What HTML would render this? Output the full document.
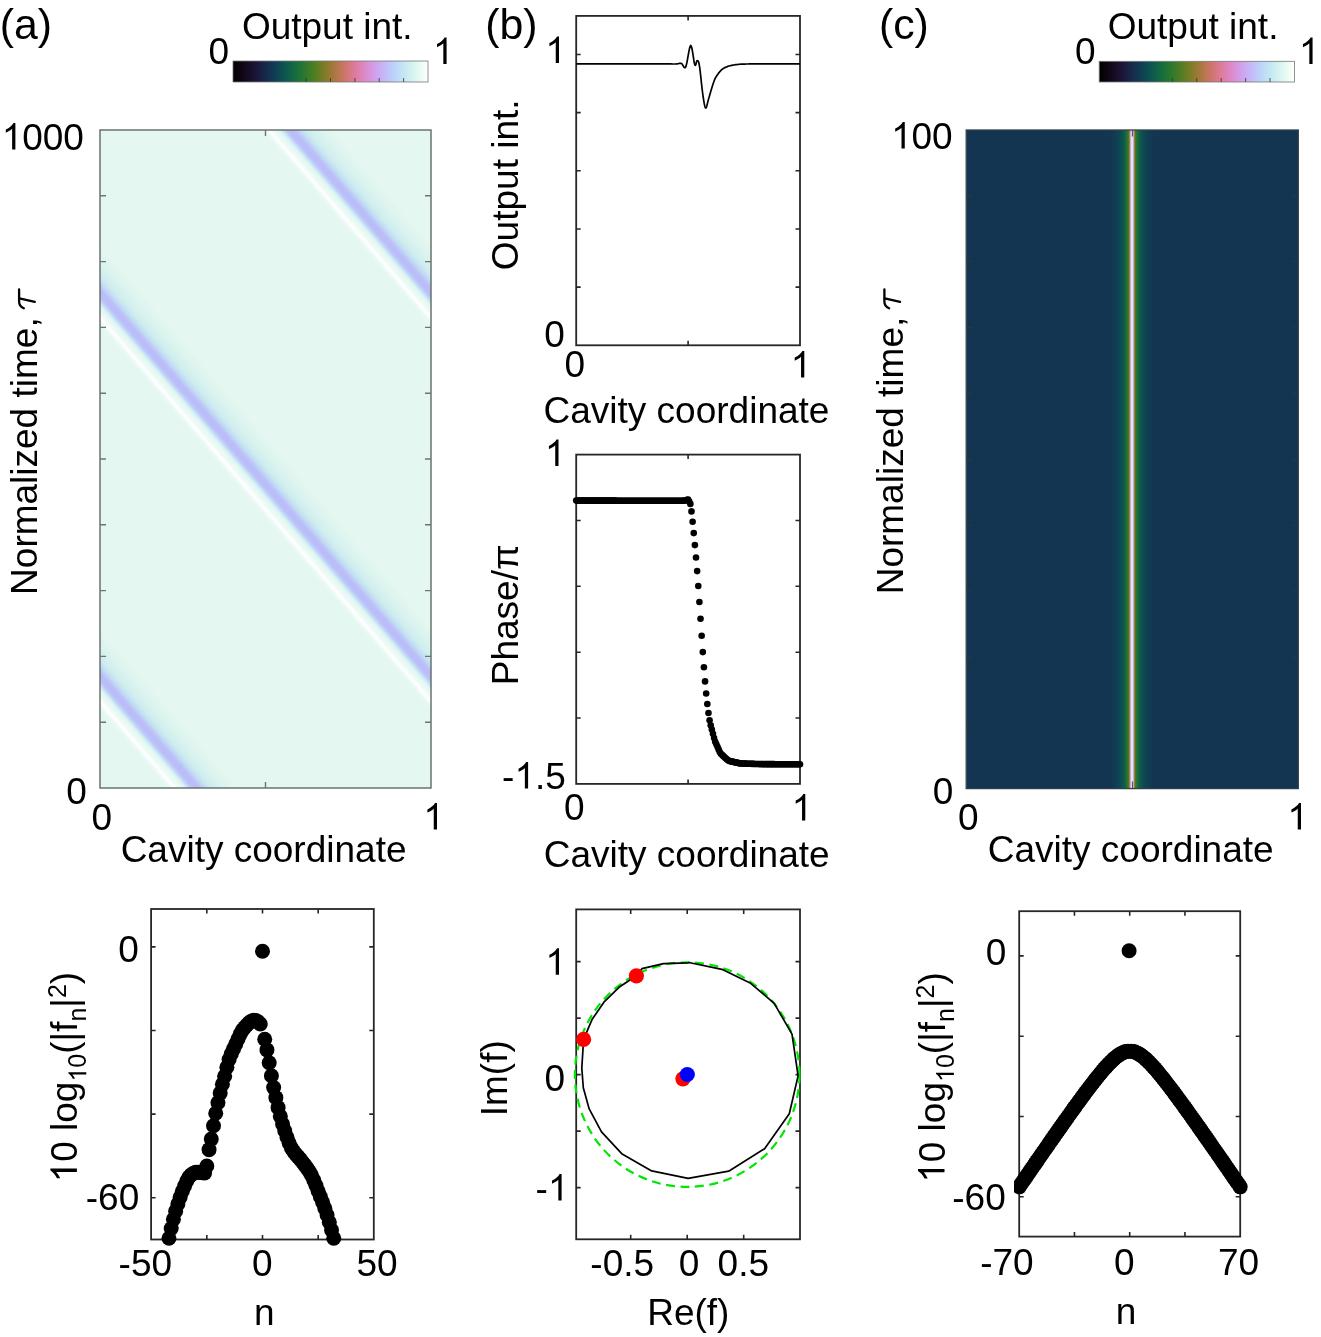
<!DOCTYPE html><html><head><meta charset="utf-8"><style>html,body{margin:0;padding:0;background:#fff;overflow:hidden}svg{display:block;will-change:transform}text{font-family:"Liberation Sans",sans-serif;fill:#000;font-kerning:none;white-space:pre}</style></head><body>
<svg width="1321" height="1337" viewBox="0 0 1321 1337">
<rect width="1321" height="1337" fill="#fff"/>
<defs>
<linearGradient id="cb" x1="0" y1="0" x2="1" y2="0"><stop offset="0.000" stop-color="#000000"/><stop offset="0.025" stop-color="#090309"/><stop offset="0.050" stop-color="#110615"/><stop offset="0.075" stop-color="#160b22"/><stop offset="0.100" stop-color="#19112f"/><stop offset="0.125" stop-color="#1a183b"/><stop offset="0.150" stop-color="#192245"/><stop offset="0.175" stop-color="#162c4d"/><stop offset="0.200" stop-color="#123752"/><stop offset="0.225" stop-color="#0f4353"/><stop offset="0.250" stop-color="#0d4f51"/><stop offset="0.275" stop-color="#0e5a4d"/><stop offset="0.300" stop-color="#116545"/><stop offset="0.325" stop-color="#186d3d"/><stop offset="0.350" stop-color="#227434"/><stop offset="0.375" stop-color="#31792c"/><stop offset="0.400" stop-color="#427c26"/><stop offset="0.425" stop-color="#567d23"/><stop offset="0.450" stop-color="#6c7d25"/><stop offset="0.475" stop-color="#837b2a"/><stop offset="0.500" stop-color="#997935"/><stop offset="0.525" stop-color="#ad7743"/><stop offset="0.550" stop-color="#bf7656"/><stop offset="0.575" stop-color="#cd766c"/><stop offset="0.600" stop-color="#d77783"/><stop offset="0.625" stop-color="#dd7b9b"/><stop offset="0.650" stop-color="#de81b3"/><stop offset="0.675" stop-color="#dd89c8"/><stop offset="0.700" stop-color="#d893da"/><stop offset="0.725" stop-color="#d29ee9"/><stop offset="0.750" stop-color="#cbabf3"/><stop offset="0.775" stop-color="#c5b8f9"/><stop offset="0.800" stop-color="#c0c5fb"/><stop offset="0.825" stop-color="#bed2fa"/><stop offset="0.850" stop-color="#c0ddf8"/><stop offset="0.875" stop-color="#c4e6f4"/><stop offset="0.900" stop-color="#cceef1"/><stop offset="0.925" stop-color="#d7f4f0"/><stop offset="0.950" stop-color="#e4f9f1"/><stop offset="0.975" stop-color="#f2fcf6"/><stop offset="1.000" stop-color="#ffffff"/></linearGradient>
<linearGradient id="stripe" gradientUnits="userSpaceOnUse" x1="-60" y1="0" x2="60" y2="0"><stop offset="0.0000" stop-color="#e4f7f0"/><stop offset="0.2417" stop-color="#e4f7f0"/><stop offset="0.2750" stop-color="#eaf9f4"/><stop offset="0.3125" stop-color="#ffffff"/><stop offset="0.3500" stop-color="#ecfaf5"/><stop offset="0.3792" stop-color="#e6f9f3"/><stop offset="0.4042" stop-color="#dcf3f3"/><stop offset="0.4250" stop-color="#c8e2f6"/><stop offset="0.4500" stop-color="#bccaf8"/><stop offset="0.4750" stop-color="#b9bdf8"/><stop offset="0.5167" stop-color="#bbbdf8"/><stop offset="0.5417" stop-color="#bdcbf7"/><stop offset="0.5750" stop-color="#c3dff3"/><stop offset="0.6250" stop-color="#cfedef"/><stop offset="0.7167" stop-color="#daf3ee"/><stop offset="0.8333" stop-color="#e4f7f0"/><stop offset="1.0000" stop-color="#e4f7f0"/></linearGradient>
<clipPath id="clipA"><rect x="100" y="130" width="331" height="658"/></clipPath>
<clipPath id="clipC"><rect x="966.2" y="130" width="332.1" height="658.6"/></clipPath>
<clipPath id="clipCS"><rect x="1014.1" y="880" width="300" height="400"/></clipPath>
<linearGradient id="cline" gradientUnits="userSpaceOnUse" x1="1092" y1="0" x2="1172" y2="0"><stop offset="0.0000" stop-color="#133551"/><stop offset="0.2250" stop-color="#133551"/><stop offset="0.3125" stop-color="#103f53"/><stop offset="0.3750" stop-color="#0d5051"/><stop offset="0.4125" stop-color="#106248"/><stop offset="0.4375" stop-color="#217435"/><stop offset="0.4562" stop-color="#417c27"/><stop offset="0.4688" stop-color="#a7783e"/><stop offset="0.4775" stop-color="#de85be"/><stop offset="0.4875" stop-color="#c2e3f5"/><stop offset="0.5000" stop-color="#e0f7f0"/><stop offset="0.5125" stop-color="#c2e3f5"/><stop offset="0.5225" stop-color="#de85be"/><stop offset="0.5312" stop-color="#a7783e"/><stop offset="0.5437" stop-color="#417c27"/><stop offset="0.5625" stop-color="#217435"/><stop offset="0.5875" stop-color="#106248"/><stop offset="0.6250" stop-color="#0d5051"/><stop offset="0.6875" stop-color="#103f53"/><stop offset="0.7750" stop-color="#133551"/><stop offset="1.0000" stop-color="#133551"/></linearGradient>
</defs>
<g fill="#000">
<text x="-0.35" y="38.70" font-size="42.8">(a)</text>
<rect x="233" y="61" width="195" height="21" fill="url(#cb)"/><rect x="233" y="61" width="195" height="21" fill="none" stroke="#777" stroke-width="0.8"/><path d="M306.1,82v-4" stroke="#333" stroke-width="0.8"/><path d="M330.5,82v-4" stroke="#333" stroke-width="0.8"/><path d="M354.9,82v-4" stroke="#333" stroke-width="0.8"/><path d="M379.2,82v-4" stroke="#333" stroke-width="0.8"/><path d="M403.6,82v-4" stroke="#333" stroke-width="0.8"/>
<text x="241.92" y="38.90" font-size="37">Output int.</text>
<text x="208.39" y="63.60" font-size="37">0</text>
<path transform="translate(432.79,64.00) scale(37)" d="M0.3726,0L0.2847,0L0.2847,-0.560C0.263,-0.540 0.235,-0.519 0.200,-0.498C0.166,-0.477 0.134,-0.461 0.1138,-0.4546L0.1138,-0.5396C0.1626,-0.5625 0.2051,-0.5903 0.2417,-0.6230C0.2783,-0.6558 0.3042,-0.6875 0.3193,-0.7158L0.3726,-0.7158Z"/>
</g>
<g clip-path="url(#clipA)">
<rect x="100" y="130" width="331" height="658" fill="#e4f7f0"/>
<g transform="matrix(1,0,0.86281,1,-701.50,130)"><rect x="-60" y="-10" width="120" height="680" fill="url(#stripe)"/></g>
<g transform="matrix(1,0,0.86281,1,-370.50,130)"><rect x="-60" y="-10" width="120" height="680" fill="url(#stripe)"/></g>
<g transform="matrix(1,0,0.86281,1,-39.50,130)"><rect x="-60" y="-10" width="120" height="680" fill="url(#stripe)"/></g>
<g transform="matrix(1,0,0.86281,1,291.50,130)"><rect x="-60" y="-10" width="120" height="680" fill="url(#stripe)"/></g>
<g transform="matrix(1,0,0.86281,1,622.50,130)"><rect x="-60" y="-10" width="120" height="680" fill="url(#stripe)"/></g>
</g>
<rect x="100" y="130" width="331" height="658" fill="none" stroke="#5f6a66" stroke-width="1.4"/>
<path d="M100,195.80h6M431,195.80h-6" stroke="#6b7572" stroke-width="1.4"/>
<path d="M100,261.60h6M431,261.60h-6" stroke="#6b7572" stroke-width="1.4"/>
<path d="M100,327.40h6M431,327.40h-6" stroke="#6b7572" stroke-width="1.4"/>
<path d="M100,393.20h6M431,393.20h-6" stroke="#6b7572" stroke-width="1.4"/>
<path d="M100,459.00h6M431,459.00h-6" stroke="#6b7572" stroke-width="1.4"/>
<path d="M100,524.80h6M431,524.80h-6" stroke="#6b7572" stroke-width="1.4"/>
<path d="M100,590.60h6M431,590.60h-6" stroke="#6b7572" stroke-width="1.4"/>
<path d="M100,656.40h6M431,656.40h-6" stroke="#6b7572" stroke-width="1.4"/>
<path d="M100,722.20h6M431,722.20h-6" stroke="#6b7572" stroke-width="1.4"/>
<path d="M265.50,130v6M265.50,788v-6" stroke="#6b7572" stroke-width="1.4"/>
<g fill="#000">
<path transform="translate(1.60,149.50) scale(37)" d="M0.3726,0L0.2847,0L0.2847,-0.560C0.263,-0.540 0.235,-0.519 0.200,-0.498C0.166,-0.477 0.134,-0.461 0.1138,-0.4546L0.1138,-0.5396C0.1626,-0.5625 0.2051,-0.5903 0.2417,-0.6230C0.2783,-0.6558 0.3042,-0.6875 0.3193,-0.7158L0.3726,-0.7158Z"/><text x="22.18" y="149.50" font-size="37">000</text>
<text x="66.13" y="803.80" font-size="37">0</text>
<text x="91.39" y="829.60" font-size="37">0</text>
<path transform="translate(423.21,829.40) scale(37)" d="M0.3726,0L0.2847,0L0.2847,-0.560C0.263,-0.540 0.235,-0.519 0.200,-0.498C0.166,-0.477 0.134,-0.461 0.1138,-0.4546L0.1138,-0.5396C0.1626,-0.5625 0.2051,-0.5903 0.2417,-0.6230C0.2783,-0.6558 0.3042,-0.6875 0.3193,-0.7158L0.3726,-0.7158Z"/>
<text x="120.65" y="862.00" font-size="37">Cavity coordinate</text>
<g transform="translate(37.40,591.90) rotate(-90)"><text x="-3.03" y="0.00" font-size="37">Normalized time,</text></g>
</g>
<g transform="translate(37.40,310) rotate(-90)" fill="none" stroke="#000" stroke-width="2.3" stroke-linecap="round"><path d="M20.6,-18.3L8.6,-18.3C5.2,-18.3 3.0,-16.6 1.8,-13.6"/><path d="M11.6,-18L8.2,-2.6"/></g>
<g fill="#000">
<text x="485.15" y="38.50" font-size="42.8">(b)</text>
</g>
<rect x="576.2" y="15.9" width="223.80" height="329.40" fill="none" stroke="#262626" stroke-width="1.8"/>
<path d="M576.2,287.14h4.5M800,287.14h-4.5" stroke="#262626" stroke-width="1.6"/>
<path d="M576.2,228.98h4.5M800,228.98h-4.5" stroke="#262626" stroke-width="1.6"/>
<path d="M576.2,170.82h4.5M800,170.82h-4.5" stroke="#262626" stroke-width="1.6"/>
<path d="M576.2,112.66h4.5M800,112.66h-4.5" stroke="#262626" stroke-width="1.6"/>
<path d="M576.2,54.50h4.5M800,54.50h-4.5" stroke="#262626" stroke-width="1.6"/>
<path d="M688.10,15.9v4.5M688.10,345.3v-4.5" stroke="#262626" stroke-width="1.6"/>
<path d="M576.20,63.90 L583.13,63.90 L592.87,63.90 L604.51,63.90 L617.16,63.89 L629.92,63.89 L641.92,63.89 L652.24,63.90 L660.00,63.90 L665.24,63.91 L668.82,63.93 L671.09,63.96 L672.41,63.99 L673.12,64.01 L673.57,64.02 L674.11,64.02 L675.10,64.00 L676.30,63.93 L677.30,63.80 L678.12,63.65 L678.81,63.49 L679.43,63.36 L680.00,63.28 L680.58,63.28 L681.20,63.40 L681.84,63.81 L682.43,64.57 L682.98,65.51 L683.52,66.45 L684.05,67.23 L684.58,67.68 L685.12,67.63 L685.70,66.90 L686.31,65.14 L686.94,62.35 L687.58,58.91 L688.23,55.21 L688.87,51.64 L689.50,48.57 L690.11,46.40 L690.70,45.50 L691.27,46.12 L691.83,48.01 L692.38,50.78 L692.92,54.07 L693.43,57.49 L693.92,60.67 L694.38,63.23 L694.80,64.80 L695.17,65.35 L695.50,65.21 L695.79,64.58 L696.06,63.65 L696.32,62.61 L696.57,61.64 L696.82,60.94 L697.10,60.70 L697.38,60.72 L697.65,60.73 L697.91,60.83 L698.18,61.10 L698.46,61.62 L698.75,62.49 L699.06,63.79 L699.40,65.60 L699.78,68.15 L700.19,71.45 L700.62,75.28 L701.07,79.40 L701.52,83.59 L701.97,87.62 L702.40,91.27 L702.80,94.30 L703.18,96.88 L703.54,99.30 L703.89,101.51 L704.24,103.47 L704.58,105.14 L704.91,106.48 L705.25,107.45 L705.60,108.00 L705.95,108.02 L706.29,107.51 L706.64,106.57 L706.98,105.32 L707.33,103.88 L707.68,102.37 L708.04,100.91 L708.40,99.60 L708.77,98.37 L709.16,97.07 L709.54,95.72 L709.94,94.34 L710.33,92.95 L710.72,91.59 L711.12,90.26 L711.50,89.00 L711.88,87.77 L712.26,86.55 L712.63,85.35 L713.01,84.17 L713.38,83.03 L713.75,81.95 L714.13,80.94 L714.50,80.00 L714.86,79.16 L715.21,78.41 L715.55,77.74 L715.90,77.12 L716.26,76.52 L716.64,75.94 L717.05,75.34 L717.50,74.70 L717.99,74.02 L718.50,73.32 L719.05,72.62 L719.61,71.91 L720.20,71.23 L720.81,70.57 L721.45,69.96 L722.10,69.40 L722.77,68.90 L723.46,68.44 L724.18,68.01 L724.91,67.62 L725.67,67.26 L726.45,66.92 L727.26,66.60 L728.10,66.30 L728.97,66.02 L729.89,65.77 L730.83,65.55 L731.80,65.34 L732.78,65.16 L733.76,64.99 L734.74,64.84 L735.70,64.70 L736.59,64.57 L737.39,64.47 L738.15,64.38 L738.93,64.31 L739.78,64.25 L740.76,64.20 L741.91,64.15 L743.30,64.10 L744.79,64.05 L746.29,64.02 L747.87,63.99 L749.62,63.96 L751.63,63.94 L753.97,63.93 L756.74,63.91 L760.00,63.90 L764.16,63.89 L769.30,63.89 L775.05,63.89 L781.04,63.89 L786.91,63.89 L792.27,63.90 L796.75,63.90 L800.00,63.90" fill="none" stroke="#000" stroke-width="1.7" stroke-linejoin="round"/>
<g fill="#000">
<path transform="translate(545.21,63.00) scale(37)" d="M0.3726,0L0.2847,0L0.2847,-0.560C0.263,-0.540 0.235,-0.519 0.200,-0.498C0.166,-0.477 0.134,-0.461 0.1138,-0.4546L0.1138,-0.5396C0.1626,-0.5625 0.2051,-0.5903 0.2417,-0.6230C0.2783,-0.6558 0.3042,-0.6875 0.3193,-0.7158L0.3726,-0.7158Z"/>
<text x="544.23" y="346.90" font-size="37">0</text>
<text x="564.39" y="377.30" font-size="37">0</text>
<path transform="translate(790.51,377.50) scale(37)" d="M0.3726,0L0.2847,0L0.2847,-0.560C0.263,-0.540 0.235,-0.519 0.200,-0.498C0.166,-0.477 0.134,-0.461 0.1138,-0.4546L0.1138,-0.5396C0.1626,-0.5625 0.2051,-0.5903 0.2417,-0.6230C0.2783,-0.6558 0.3042,-0.6875 0.3193,-0.7158L0.3726,-0.7158Z"/>
<text x="543.55" y="422.70" font-size="37">Cavity coordinate</text>
<g transform="translate(518.10,268.40) rotate(-90)"><text x="-1.78" y="0.00" font-size="37">Output int.</text></g>
</g>
<rect x="576.2" y="454.6" width="223.80" height="329.30" fill="none" stroke="#262626" stroke-width="1.8"/>
<path d="M576.2,520.46h4.5M800,520.46h-4.5" stroke="#262626" stroke-width="1.6"/>
<path d="M576.2,586.32h4.5M800,586.32h-4.5" stroke="#262626" stroke-width="1.6"/>
<path d="M576.2,652.18h4.5M800,652.18h-4.5" stroke="#262626" stroke-width="1.6"/>
<path d="M576.2,718.04h4.5M800,718.04h-4.5" stroke="#262626" stroke-width="1.6"/>
<path d="M688.10,454.6v4.5M688.10,783.9v-4.5" stroke="#262626" stroke-width="1.6"/>
<g fill="#000"><circle cx="576.20" cy="500.60" r="3.3"/><circle cx="577.33" cy="500.60" r="3.3"/><circle cx="578.46" cy="500.60" r="3.3"/><circle cx="579.59" cy="500.61" r="3.3"/><circle cx="580.72" cy="500.61" r="3.3"/><circle cx="581.85" cy="500.61" r="3.3"/><circle cx="582.98" cy="500.61" r="3.3"/><circle cx="584.11" cy="500.62" r="3.3"/><circle cx="585.24" cy="500.62" r="3.3"/><circle cx="586.37" cy="500.62" r="3.3"/><circle cx="587.50" cy="500.62" r="3.3"/><circle cx="588.63" cy="500.62" r="3.3"/><circle cx="589.76" cy="500.63" r="3.3"/><circle cx="590.89" cy="500.63" r="3.3"/><circle cx="592.02" cy="500.63" r="3.3"/><circle cx="593.15" cy="500.63" r="3.3"/><circle cx="594.28" cy="500.63" r="3.3"/><circle cx="595.42" cy="500.64" r="3.3"/><circle cx="596.55" cy="500.64" r="3.3"/><circle cx="597.68" cy="500.64" r="3.3"/><circle cx="598.81" cy="500.64" r="3.3"/><circle cx="599.94" cy="500.64" r="3.3"/><circle cx="601.07" cy="500.65" r="3.3"/><circle cx="602.20" cy="500.65" r="3.3"/><circle cx="603.33" cy="500.65" r="3.3"/><circle cx="604.46" cy="500.65" r="3.3"/><circle cx="605.59" cy="500.65" r="3.3"/><circle cx="606.72" cy="500.66" r="3.3"/><circle cx="607.85" cy="500.66" r="3.3"/><circle cx="608.98" cy="500.66" r="3.3"/><circle cx="610.11" cy="500.66" r="3.3"/><circle cx="611.24" cy="500.67" r="3.3"/><circle cx="612.37" cy="500.67" r="3.3"/><circle cx="613.50" cy="500.67" r="3.3"/><circle cx="614.63" cy="500.67" r="3.3"/><circle cx="615.76" cy="500.67" r="3.3"/><circle cx="616.89" cy="500.68" r="3.3"/><circle cx="618.02" cy="500.68" r="3.3"/><circle cx="619.15" cy="500.68" r="3.3"/><circle cx="620.28" cy="500.68" r="3.3"/><circle cx="621.41" cy="500.68" r="3.3"/><circle cx="622.54" cy="500.69" r="3.3"/><circle cx="623.67" cy="500.69" r="3.3"/><circle cx="624.80" cy="500.69" r="3.3"/><circle cx="625.93" cy="500.69" r="3.3"/><circle cx="627.06" cy="500.69" r="3.3"/><circle cx="628.19" cy="500.70" r="3.3"/><circle cx="629.32" cy="500.70" r="3.3"/><circle cx="630.45" cy="500.70" r="3.3"/><circle cx="631.58" cy="500.70" r="3.3"/><circle cx="632.72" cy="500.71" r="3.3"/><circle cx="633.85" cy="500.71" r="3.3"/><circle cx="634.98" cy="500.71" r="3.3"/><circle cx="636.11" cy="500.71" r="3.3"/><circle cx="637.24" cy="500.71" r="3.3"/><circle cx="638.37" cy="500.72" r="3.3"/><circle cx="639.50" cy="500.72" r="3.3"/><circle cx="640.63" cy="500.72" r="3.3"/><circle cx="641.76" cy="500.72" r="3.3"/><circle cx="642.89" cy="500.72" r="3.3"/><circle cx="644.02" cy="500.73" r="3.3"/><circle cx="645.15" cy="500.73" r="3.3"/><circle cx="646.28" cy="500.73" r="3.3"/><circle cx="647.41" cy="500.73" r="3.3"/><circle cx="648.54" cy="500.73" r="3.3"/><circle cx="649.67" cy="500.74" r="3.3"/><circle cx="650.80" cy="500.74" r="3.3"/><circle cx="651.93" cy="500.74" r="3.3"/><circle cx="653.06" cy="500.74" r="3.3"/><circle cx="654.19" cy="500.74" r="3.3"/><circle cx="655.32" cy="500.75" r="3.3"/><circle cx="656.45" cy="500.75" r="3.3"/><circle cx="657.58" cy="500.75" r="3.3"/><circle cx="658.71" cy="500.75" r="3.3"/><circle cx="659.84" cy="500.76" r="3.3"/><circle cx="660.97" cy="500.76" r="3.3"/><circle cx="662.10" cy="500.76" r="3.3"/><circle cx="663.23" cy="500.76" r="3.3"/><circle cx="664.36" cy="500.76" r="3.3"/><circle cx="665.49" cy="500.77" r="3.3"/><circle cx="666.62" cy="500.77" r="3.3"/><circle cx="667.75" cy="500.77" r="3.3"/><circle cx="668.88" cy="500.77" r="3.3"/><circle cx="670.02" cy="500.77" r="3.3"/><circle cx="671.15" cy="500.78" r="3.3"/><circle cx="672.28" cy="500.78" r="3.3"/><circle cx="673.41" cy="500.78" r="3.3"/><circle cx="674.54" cy="500.78" r="3.3"/><circle cx="675.67" cy="500.78" r="3.3"/><circle cx="676.80" cy="500.79" r="3.3"/><circle cx="677.93" cy="500.79" r="3.3"/><circle cx="679.06" cy="500.79" r="3.3"/><circle cx="680.19" cy="500.79" r="3.3"/><circle cx="681.32" cy="500.80" r="3.3"/><circle cx="682.45" cy="500.80" r="3.3"/><circle cx="683.58" cy="500.80" r="3.3"/><circle cx="684.71" cy="500.59" r="3.3"/><circle cx="685.84" cy="500.24" r="3.3"/><circle cx="686.97" cy="499.90" r="3.3"/><circle cx="688.10" cy="499.56" r="3.3"/><circle cx="689.23" cy="501.49" r="3.3"/><circle cx="690.36" cy="503.90" r="3.3"/><circle cx="691.49" cy="511.40" r="3.3"/><circle cx="692.62" cy="521.70" r="3.3"/><circle cx="693.75" cy="533.10" r="3.3"/><circle cx="694.88" cy="545.10" r="3.3"/><circle cx="696.01" cy="557.50" r="3.3"/><circle cx="697.14" cy="571.10" r="3.3"/><circle cx="698.27" cy="586.00" r="3.3"/><circle cx="699.40" cy="602.00" r="3.3"/><circle cx="700.53" cy="618.80" r="3.3"/><circle cx="701.66" cy="635.70" r="3.3"/><circle cx="702.79" cy="652.10" r="3.3"/><circle cx="703.92" cy="667.30" r="3.3"/><circle cx="705.05" cy="681.40" r="3.3"/><circle cx="706.18" cy="693.50" r="3.3"/><circle cx="707.32" cy="704.00" r="3.3"/><circle cx="708.45" cy="713.00" r="3.3"/><circle cx="709.58" cy="720.20" r="3.3"/><circle cx="710.71" cy="725.20" r="3.3"/><circle cx="711.84" cy="729.59" r="3.3"/><circle cx="712.97" cy="733.78" r="3.3"/><circle cx="714.10" cy="737.96" r="3.3"/><circle cx="715.23" cy="741.81" r="3.3"/><circle cx="716.36" cy="744.34" r="3.3"/><circle cx="717.49" cy="746.87" r="3.3"/><circle cx="718.62" cy="749.41" r="3.3"/><circle cx="719.75" cy="751.94" r="3.3"/><circle cx="720.88" cy="753.84" r="3.3"/><circle cx="722.01" cy="754.87" r="3.3"/><circle cx="723.14" cy="755.90" r="3.3"/><circle cx="724.27" cy="756.94" r="3.3"/><circle cx="725.40" cy="757.97" r="3.3"/><circle cx="726.53" cy="759.00" r="3.3"/><circle cx="727.66" cy="760.03" r="3.3"/><circle cx="728.79" cy="760.86" r="3.3"/><circle cx="729.92" cy="761.12" r="3.3"/><circle cx="731.05" cy="761.37" r="3.3"/><circle cx="732.18" cy="761.62" r="3.3"/><circle cx="733.31" cy="761.87" r="3.3"/><circle cx="734.44" cy="762.13" r="3.3"/><circle cx="735.57" cy="762.38" r="3.3"/><circle cx="736.70" cy="762.63" r="3.3"/><circle cx="737.83" cy="762.88" r="3.3"/><circle cx="738.96" cy="763.13" r="3.3"/><circle cx="740.09" cy="763.39" r="3.3"/><circle cx="741.22" cy="763.52" r="3.3"/><circle cx="742.35" cy="763.55" r="3.3"/><circle cx="743.48" cy="763.59" r="3.3"/><circle cx="744.62" cy="763.62" r="3.3"/><circle cx="745.75" cy="763.66" r="3.3"/><circle cx="746.88" cy="763.69" r="3.3"/><circle cx="748.01" cy="763.73" r="3.3"/><circle cx="749.14" cy="763.76" r="3.3"/><circle cx="750.27" cy="763.80" r="3.3"/><circle cx="751.40" cy="763.83" r="3.3"/><circle cx="752.53" cy="763.87" r="3.3"/><circle cx="753.66" cy="763.90" r="3.3"/><circle cx="754.79" cy="763.94" r="3.3"/><circle cx="755.92" cy="763.97" r="3.3"/><circle cx="757.05" cy="764.01" r="3.3"/><circle cx="758.18" cy="764.04" r="3.3"/><circle cx="759.31" cy="764.08" r="3.3"/><circle cx="760.44" cy="764.10" r="3.3"/><circle cx="761.57" cy="764.11" r="3.3"/><circle cx="762.70" cy="764.11" r="3.3"/><circle cx="763.83" cy="764.12" r="3.3"/><circle cx="764.96" cy="764.12" r="3.3"/><circle cx="766.09" cy="764.13" r="3.3"/><circle cx="767.22" cy="764.14" r="3.3"/><circle cx="768.35" cy="764.14" r="3.3"/><circle cx="769.48" cy="764.15" r="3.3"/><circle cx="770.61" cy="764.15" r="3.3"/><circle cx="771.74" cy="764.16" r="3.3"/><circle cx="772.87" cy="764.16" r="3.3"/><circle cx="774.00" cy="764.17" r="3.3"/><circle cx="775.13" cy="764.18" r="3.3"/><circle cx="776.26" cy="764.18" r="3.3"/><circle cx="777.39" cy="764.19" r="3.3"/><circle cx="778.52" cy="764.19" r="3.3"/><circle cx="779.65" cy="764.20" r="3.3"/><circle cx="780.78" cy="764.20" r="3.3"/><circle cx="781.92" cy="764.21" r="3.3"/><circle cx="783.05" cy="764.22" r="3.3"/><circle cx="784.18" cy="764.22" r="3.3"/><circle cx="785.31" cy="764.23" r="3.3"/><circle cx="786.44" cy="764.23" r="3.3"/><circle cx="787.57" cy="764.24" r="3.3"/><circle cx="788.70" cy="764.24" r="3.3"/><circle cx="789.83" cy="764.25" r="3.3"/><circle cx="790.96" cy="764.25" r="3.3"/><circle cx="792.09" cy="764.26" r="3.3"/><circle cx="793.22" cy="764.27" r="3.3"/><circle cx="794.35" cy="764.27" r="3.3"/><circle cx="795.48" cy="764.28" r="3.3"/><circle cx="796.61" cy="764.28" r="3.3"/><circle cx="797.74" cy="764.29" r="3.3"/><circle cx="798.87" cy="764.29" r="3.3"/><circle cx="800.00" cy="764.30" r="3.3"/></g>
<g fill="#000">
<path transform="translate(544.71,465.90) scale(37)" d="M0.3726,0L0.2847,0L0.2847,-0.560C0.263,-0.540 0.235,-0.519 0.200,-0.498C0.166,-0.477 0.134,-0.461 0.1138,-0.4546L0.1138,-0.5396C0.1626,-0.5625 0.2051,-0.5903 0.2417,-0.6230C0.2783,-0.6558 0.3042,-0.6875 0.3193,-0.7158L0.3726,-0.7158Z"/>
<text x="502.00" y="788.60" font-size="37">-</text><path transform="translate(514.32,788.60) scale(37)" d="M0.3726,0L0.2847,0L0.2847,-0.560C0.263,-0.540 0.235,-0.519 0.200,-0.498C0.166,-0.477 0.134,-0.461 0.1138,-0.4546L0.1138,-0.5396C0.1626,-0.5625 0.2051,-0.5903 0.2417,-0.6230C0.2783,-0.6558 0.3042,-0.6875 0.3193,-0.7158L0.3726,-0.7158Z"/><text x="534.90" y="788.60" font-size="37">.5</text>
<text x="564.09" y="820.00" font-size="37">0</text>
<path transform="translate(791.51,820.50) scale(37)" d="M0.3726,0L0.2847,0L0.2847,-0.560C0.263,-0.540 0.235,-0.519 0.200,-0.498C0.166,-0.477 0.134,-0.461 0.1138,-0.4546L0.1138,-0.5396C0.1626,-0.5625 0.2051,-0.5903 0.2417,-0.6230C0.2783,-0.6558 0.3042,-0.6875 0.3193,-0.7158L0.3726,-0.7158Z"/>
<text x="543.75" y="866.50" font-size="37">Cavity coordinate</text>
<g transform="translate(518.10,682.20) rotate(-90)"><text x="-3.03" y="0.00" font-size="37">Phase/π</text></g>
</g>
<rect x="576.2" y="909.4" width="223.80" height="329.90" fill="none" stroke="#262626" stroke-width="1.8"/>
<path d="M576.2,961.60h4.5M800,961.60h-4.5" stroke="#262626" stroke-width="1.6"/>
<path d="M576.2,1018.10h4.5M800,1018.10h-4.5" stroke="#262626" stroke-width="1.6"/>
<path d="M576.2,1074.60h4.5M800,1074.60h-4.5" stroke="#262626" stroke-width="1.6"/>
<path d="M576.2,1131.10h4.5M800,1131.10h-4.5" stroke="#262626" stroke-width="1.6"/>
<path d="M576.2,1187.60h4.5M800,1187.60h-4.5" stroke="#262626" stroke-width="1.6"/>
<path d="M630.70,909.4v4.5M630.70,1239.3v-4.5" stroke="#262626" stroke-width="1.6"/>
<path d="M687.20,909.4v4.5M687.20,1239.3v-4.5" stroke="#262626" stroke-width="1.6"/>
<path d="M743.70,909.4v4.5M743.70,1239.3v-4.5" stroke="#262626" stroke-width="1.6"/>
<circle cx="687.2" cy="1074.6" r="112.3" fill="none" stroke="#00e600" stroke-width="2.2" stroke-dasharray="9 5.5"/>
<path d="M688.10,962.80 L663.50,963.60 L641.90,968.70 L636.40,975.80 L619.00,987.30 L603.90,1002.20 L592.00,1019.60 L583.60,1039.40 L581.80,1068.10 L583.30,1087.70 L589.20,1108.90 L601.50,1131.80 L621.70,1153.70 L651.70,1170.90 L688.10,1178.30 L728.70,1171.20 L764.60,1148.70 L789.30,1113.80 L798.10,1075.90 L792.00,1034.20 L774.20,1003.30 L750.10,982.90 L721.90,969.30 L688.90,962.50 Z" fill="none" stroke="#000" stroke-width="1.7" stroke-linejoin="round"/>
<circle cx="636.4" cy="975.8" r="7.6" fill="#ff0000"/>
<circle cx="583.6" cy="1039.4" r="7.6" fill="#ff0000"/>
<circle cx="682.9" cy="1078.8" r="7.6" fill="#ff0000"/>
<circle cx="687.3" cy="1074.5" r="7.6" fill="#0000ff"/>
<g fill="#000">
<path transform="translate(545.21,974.80) scale(37)" d="M0.3726,0L0.2847,0L0.2847,-0.560C0.263,-0.540 0.235,-0.519 0.200,-0.498C0.166,-0.477 0.134,-0.461 0.1138,-0.4546L0.1138,-0.5396C0.1626,-0.5625 0.2051,-0.5903 0.2417,-0.6230C0.2783,-0.6558 0.3042,-0.6875 0.3193,-0.7158L0.3726,-0.7158Z"/>
<text x="544.43" y="1091.30" font-size="37">0</text>
<text x="535.49" y="1200.50" font-size="37">-</text><path transform="translate(547.81,1200.50) scale(37)" d="M0.3726,0L0.2847,0L0.2847,-0.560C0.263,-0.540 0.235,-0.519 0.200,-0.498C0.166,-0.477 0.134,-0.461 0.1138,-0.4546L0.1138,-0.5396C0.1626,-0.5625 0.2051,-0.5903 0.2417,-0.6230C0.2783,-0.6558 0.3042,-0.6875 0.3193,-0.7158L0.3726,-0.7158Z"/>
<text x="590.37" y="1275.60" font-size="37">-0.5</text>
<text x="678.69" y="1275.60" font-size="37">0</text>
<text x="717.59" y="1275.60" font-size="37">0.5</text>
<text x="647.17" y="1324.80" font-size="37">Re(f)</text>
<g transform="translate(506.90,1112.90) rotate(-90)"><text x="-3.40" y="0.00" font-size="37">Im(f)</text></g>
</g>
<rect x="151.1" y="909" width="222.70" height="330.50" fill="none" stroke="#262626" stroke-width="1.8"/>
<path d="M151.1,946.90h4.5M373.8,946.90h-4.5" stroke="#262626" stroke-width="1.6"/>
<path d="M151.1,1030.50h4.5M373.8,1030.50h-4.5" stroke="#262626" stroke-width="1.6"/>
<path d="M151.1,1114.10h4.5M373.8,1114.10h-4.5" stroke="#262626" stroke-width="1.6"/>
<path d="M151.1,1197.70h4.5M373.8,1197.70h-4.5" stroke="#262626" stroke-width="1.6"/>
<path d="M206.82,909v4.5M206.82,1239.5v-4.5" stroke="#262626" stroke-width="1.6"/>
<path d="M262.50,909v4.5M262.50,1239.5v-4.5" stroke="#262626" stroke-width="1.6"/>
<path d="M318.18,909v4.5M318.18,1239.5v-4.5" stroke="#262626" stroke-width="1.6"/>
<g fill="#000"><circle cx="168.97" cy="1238.32" r="7.5"/><circle cx="171.19" cy="1228.49" r="7.5"/><circle cx="173.42" cy="1219.32" r="7.5"/><circle cx="175.65" cy="1211.15" r="7.5"/><circle cx="177.87" cy="1203.98" r="7.5"/><circle cx="180.10" cy="1197.39" r="7.5"/><circle cx="182.33" cy="1191.25" r="7.5"/><circle cx="184.56" cy="1186.00" r="7.5"/><circle cx="186.78" cy="1181.03" r="7.5"/><circle cx="189.01" cy="1176.98" r="7.5"/><circle cx="191.24" cy="1174.75" r="7.5"/><circle cx="193.46" cy="1173.23" r="7.5"/><circle cx="195.69" cy="1172.27" r="7.5"/><circle cx="197.92" cy="1172.13" r="7.5"/><circle cx="200.14" cy="1172.36" r="7.5"/><circle cx="202.37" cy="1172.68" r="7.5"/><circle cx="204.60" cy="1172.89" r="7.5"/><circle cx="206.82" cy="1165.93" r="7.5"/><circle cx="209.05" cy="1149.67" r="7.5"/><circle cx="211.28" cy="1139.10" r="7.5"/><circle cx="213.51" cy="1125.70" r="7.5"/><circle cx="215.73" cy="1113.30" r="7.5"/><circle cx="217.96" cy="1102.70" r="7.5"/><circle cx="220.19" cy="1093.10" r="7.5"/><circle cx="222.41" cy="1084.20" r="7.5"/><circle cx="224.64" cy="1076.30" r="7.5"/><circle cx="226.87" cy="1067.28" r="7.5"/><circle cx="229.09" cy="1059.45" r="7.5"/><circle cx="231.32" cy="1053.73" r="7.5"/><circle cx="233.55" cy="1048.83" r="7.5"/><circle cx="235.78" cy="1044.08" r="7.5"/><circle cx="238.00" cy="1038.99" r="7.5"/><circle cx="240.23" cy="1034.11" r="7.5"/><circle cx="242.46" cy="1030.17" r="7.5"/><circle cx="244.68" cy="1027.46" r="7.5"/><circle cx="246.91" cy="1024.96" r="7.5"/><circle cx="249.14" cy="1022.79" r="7.5"/><circle cx="251.37" cy="1021.16" r="7.5"/><circle cx="253.59" cy="1020.29" r="7.5"/><circle cx="255.82" cy="1020.44" r="7.5"/><circle cx="258.05" cy="1021.80" r="7.5"/><circle cx="260.27" cy="1024.07" r="7.5"/><circle cx="264.73" cy="1039.30" r="7.5"/><circle cx="266.95" cy="1049.90" r="7.5"/><circle cx="269.18" cy="1062.80" r="7.5"/><circle cx="271.41" cy="1075.70" r="7.5"/><circle cx="273.63" cy="1087.60" r="7.5"/><circle cx="275.86" cy="1097.63" r="7.5"/><circle cx="278.09" cy="1107.64" r="7.5"/><circle cx="280.32" cy="1116.34" r="7.5"/><circle cx="282.54" cy="1123.97" r="7.5"/><circle cx="284.77" cy="1130.81" r="7.5"/><circle cx="287.00" cy="1137.26" r="7.5"/><circle cx="289.22" cy="1143.23" r="7.5"/><circle cx="291.45" cy="1148.08" r="7.5"/><circle cx="293.68" cy="1151.59" r="7.5"/><circle cx="295.90" cy="1154.40" r="7.5"/><circle cx="298.13" cy="1156.87" r="7.5"/><circle cx="300.36" cy="1159.35" r="7.5"/><circle cx="302.59" cy="1162.18" r="7.5"/><circle cx="304.81" cy="1165.10" r="7.5"/><circle cx="307.04" cy="1168.11" r="7.5"/><circle cx="309.27" cy="1171.44" r="7.5"/><circle cx="311.49" cy="1175.31" r="7.5"/><circle cx="313.72" cy="1180.10" r="7.5"/><circle cx="315.95" cy="1185.56" r="7.5"/><circle cx="318.18" cy="1191.19" r="7.5"/><circle cx="320.40" cy="1196.72" r="7.5"/><circle cx="322.63" cy="1202.39" r="7.5"/><circle cx="324.86" cy="1208.41" r="7.5"/><circle cx="327.08" cy="1214.99" r="7.5"/><circle cx="329.31" cy="1222.19" r="7.5"/><circle cx="331.54" cy="1229.97" r="7.5"/><circle cx="333.76" cy="1238.26" r="7.5"/><circle cx="262.5" cy="951.2" r="7.5"/></g>
<g fill="#000">
<text x="118.33" y="961.70" font-size="37">0</text>
<text x="85.74" y="1210.30" font-size="37">-60</text>
<text x="118.57" y="1275.50" font-size="37">-50</text>
<text x="252.09" y="1275.50" font-size="37">0</text>
<text x="356.52" y="1275.50" font-size="37">50</text>
<text x="254.06" y="1324.50" font-size="37">n</text>
<g transform="translate(76.90,1178.20) rotate(-90)"><path transform="translate(-4.21,0.00) scale(37)" d="M0.3726,0L0.2847,0L0.2847,-0.560C0.263,-0.540 0.235,-0.519 0.200,-0.498C0.166,-0.477 0.134,-0.461 0.1138,-0.4546L0.1138,-0.5396C0.1626,-0.5625 0.2051,-0.5903 0.2417,-0.6230C0.2783,-0.6558 0.3042,-0.6875 0.3193,-0.7158L0.3726,-0.7158Z"/><text x="16.37" y="0.00" font-size="37">0 log</text><path transform="translate(96.60,9.40) scale(25)" d="M0.3726,0L0.2847,0L0.2847,-0.560C0.263,-0.540 0.235,-0.519 0.200,-0.498C0.166,-0.477 0.134,-0.461 0.1138,-0.4546L0.1138,-0.5396C0.1626,-0.5625 0.2051,-0.5903 0.2417,-0.6230C0.2783,-0.6558 0.3042,-0.6875 0.3193,-0.7158L0.3726,-0.7158Z"/><text x="110.50" y="9.40" font-size="25">0</text><text x="124.41" y="0.00" font-size="37">(|f</text><text x="156.62" y="9.40" font-size="25">n</text><text x="170.52" y="0.00" font-size="37">|</text><text x="180.14" y="-10.80" font-size="25">2</text><text x="194.04" y="0.00" font-size="37">)</text></g>
</g>
<g fill="#000">
<text x="878.95" y="38.70" font-size="42.8">(c)</text>
<rect x="1099.2" y="61.3" width="195.2" height="20.7" fill="url(#cb)"/><rect x="1099.2" y="61.3" width="195.2" height="20.7" fill="none" stroke="#777" stroke-width="0.8"/><path d="M1172.4,82.0v-4" stroke="#333" stroke-width="0.8"/><path d="M1196.8,82.0v-4" stroke="#333" stroke-width="0.8"/><path d="M1221.2,82.0v-4" stroke="#333" stroke-width="0.8"/><path d="M1245.6,82.0v-4" stroke="#333" stroke-width="0.8"/><path d="M1270.0,82.0v-4" stroke="#333" stroke-width="0.8"/>
<text x="1107.72" y="38.90" font-size="37">Output int.</text>
<text x="1074.89" y="63.60" font-size="37">0</text>
<path transform="translate(1298.79,64.00) scale(37)" d="M0.3726,0L0.2847,0L0.2847,-0.560C0.263,-0.540 0.235,-0.519 0.200,-0.498C0.166,-0.477 0.134,-0.461 0.1138,-0.4546L0.1138,-0.5396C0.1626,-0.5625 0.2051,-0.5903 0.2417,-0.6230C0.2783,-0.6558 0.3042,-0.6875 0.3193,-0.7158L0.3726,-0.7158Z"/>
</g>
<g clip-path="url(#clipC)">
<rect x="966.2" y="130" width="332.1" height="658.6" fill="#133551"/>
<rect x="1092" y="130" width="80" height="658" fill="url(#cline)"/>
</g>
<rect x="966.2" y="130" width="332.1" height="658.6" fill="none" stroke="#33404a" stroke-width="1.3"/>
<path d="M966.2,195.86h6M1298.3,195.86h-6" stroke="#24384a" stroke-width="1.2"/>
<path d="M966.2,261.72h6M1298.3,261.72h-6" stroke="#24384a" stroke-width="1.2"/>
<path d="M966.2,327.58h6M1298.3,327.58h-6" stroke="#24384a" stroke-width="1.2"/>
<path d="M966.2,393.44h6M1298.3,393.44h-6" stroke="#24384a" stroke-width="1.2"/>
<path d="M966.2,459.30h6M1298.3,459.30h-6" stroke="#24384a" stroke-width="1.2"/>
<path d="M966.2,525.16h6M1298.3,525.16h-6" stroke="#24384a" stroke-width="1.2"/>
<path d="M966.2,591.02h6M1298.3,591.02h-6" stroke="#24384a" stroke-width="1.2"/>
<path d="M966.2,656.88h6M1298.3,656.88h-6" stroke="#24384a" stroke-width="1.2"/>
<path d="M966.2,722.74h6M1298.3,722.74h-6" stroke="#24384a" stroke-width="1.2"/>
<path d="M1132.50,130v6.5M1132.50,788v-6.5" stroke="#556" stroke-width="1.2"/>
<g fill="#000">
<path transform="translate(890.98,148.50) scale(37)" d="M0.3726,0L0.2847,0L0.2847,-0.560C0.263,-0.540 0.235,-0.519 0.200,-0.498C0.166,-0.477 0.134,-0.461 0.1138,-0.4546L0.1138,-0.5396C0.1626,-0.5625 0.2051,-0.5903 0.2417,-0.6230C0.2783,-0.6558 0.3042,-0.6875 0.3193,-0.7158L0.3726,-0.7158Z"/><text x="911.56" y="148.50" font-size="37">00</text>
<text x="932.83" y="803.60" font-size="37">0</text>
<text x="957.99" y="829.60" font-size="37">0</text>
<path transform="translate(1287.21,829.40) scale(37)" d="M0.3726,0L0.2847,0L0.2847,-0.560C0.263,-0.540 0.235,-0.519 0.200,-0.498C0.166,-0.477 0.134,-0.461 0.1138,-0.4546L0.1138,-0.5396C0.1626,-0.5625 0.2051,-0.5903 0.2417,-0.6230C0.2783,-0.6558 0.3042,-0.6875 0.3193,-0.7158L0.3726,-0.7158Z"/>
<text x="987.75" y="862.00" font-size="37">Cavity coordinate</text>
<g transform="translate(902.70,591.30) rotate(-90)"><text x="-3.03" y="0.00" font-size="37">Normalized time,</text></g>
</g>
<g transform="translate(902.70,310) rotate(-90)" fill="none" stroke="#000" stroke-width="2.3" stroke-linecap="round"><path d="M20.6,-18.3L8.6,-18.3C5.2,-18.3 3.0,-16.6 1.8,-13.6"/><path d="M11.6,-18L8.2,-2.6"/></g>
<rect x="1019.2" y="911.2" width="221.00" height="325.40" fill="none" stroke="#262626" stroke-width="1.8"/>
<path d="M1019.2,955.90h4.5M1240.2,955.90h-4.5" stroke="#262626" stroke-width="1.6"/>
<path d="M1019.2,1036.20h4.5M1240.2,1036.20h-4.5" stroke="#262626" stroke-width="1.6"/>
<path d="M1019.2,1116.50h4.5M1240.2,1116.50h-4.5" stroke="#262626" stroke-width="1.6"/>
<path d="M1019.2,1196.80h4.5M1240.2,1196.80h-4.5" stroke="#262626" stroke-width="1.6"/>
<path d="M1074.45,911.2v4.5M1074.45,1236.6v-4.5" stroke="#262626" stroke-width="1.6"/>
<path d="M1129.70,911.2v4.5M1129.70,1236.6v-4.5" stroke="#262626" stroke-width="1.6"/>
<path d="M1184.95,911.2v4.5M1184.95,1236.6v-4.5" stroke="#262626" stroke-width="1.6"/>
<g fill="#000" clip-path="url(#clipCS)"><circle cx="1019.20" cy="1186.86" r="7.5"/><circle cx="1020.78" cy="1184.56" r="7.5"/><circle cx="1022.36" cy="1182.26" r="7.5"/><circle cx="1023.94" cy="1179.97" r="7.5"/><circle cx="1025.51" cy="1177.67" r="7.5"/><circle cx="1027.09" cy="1175.37" r="7.5"/><circle cx="1028.67" cy="1173.08" r="7.5"/><circle cx="1030.25" cy="1170.79" r="7.5"/><circle cx="1031.83" cy="1168.50" r="7.5"/><circle cx="1033.41" cy="1166.21" r="7.5"/><circle cx="1034.99" cy="1163.92" r="7.5"/><circle cx="1036.56" cy="1161.63" r="7.5"/><circle cx="1038.14" cy="1159.35" r="7.5"/><circle cx="1039.72" cy="1157.07" r="7.5"/><circle cx="1041.30" cy="1154.79" r="7.5"/><circle cx="1042.88" cy="1152.51" r="7.5"/><circle cx="1044.46" cy="1150.23" r="7.5"/><circle cx="1046.04" cy="1147.96" r="7.5"/><circle cx="1047.61" cy="1145.69" r="7.5"/><circle cx="1049.19" cy="1143.42" r="7.5"/><circle cx="1050.77" cy="1141.15" r="7.5"/><circle cx="1052.35" cy="1138.89" r="7.5"/><circle cx="1053.93" cy="1136.63" r="7.5"/><circle cx="1055.51" cy="1134.38" r="7.5"/><circle cx="1057.09" cy="1132.12" r="7.5"/><circle cx="1058.66" cy="1129.88" r="7.5"/><circle cx="1060.24" cy="1127.63" r="7.5"/><circle cx="1061.82" cy="1125.39" r="7.5"/><circle cx="1063.40" cy="1123.15" r="7.5"/><circle cx="1064.98" cy="1120.92" r="7.5"/><circle cx="1066.56" cy="1118.70" r="7.5"/><circle cx="1068.14" cy="1116.48" r="7.5"/><circle cx="1069.71" cy="1114.26" r="7.5"/><circle cx="1071.29" cy="1112.05" r="7.5"/><circle cx="1072.87" cy="1109.85" r="7.5"/><circle cx="1074.45" cy="1107.66" r="7.5"/><circle cx="1076.03" cy="1105.47" r="7.5"/><circle cx="1077.61" cy="1103.30" r="7.5"/><circle cx="1079.19" cy="1101.13" r="7.5"/><circle cx="1080.76" cy="1098.97" r="7.5"/><circle cx="1082.34" cy="1096.82" r="7.5"/><circle cx="1083.92" cy="1094.68" r="7.5"/><circle cx="1085.50" cy="1092.56" r="7.5"/><circle cx="1087.08" cy="1090.45" r="7.5"/><circle cx="1088.66" cy="1088.36" r="7.5"/><circle cx="1090.24" cy="1086.28" r="7.5"/><circle cx="1091.81" cy="1084.22" r="7.5"/><circle cx="1093.39" cy="1082.18" r="7.5"/><circle cx="1094.97" cy="1080.16" r="7.5"/><circle cx="1096.55" cy="1078.17" r="7.5"/><circle cx="1098.13" cy="1076.20" r="7.5"/><circle cx="1099.71" cy="1074.26" r="7.5"/><circle cx="1101.29" cy="1072.36" r="7.5"/><circle cx="1102.86" cy="1070.49" r="7.5"/><circle cx="1104.44" cy="1068.67" r="7.5"/><circle cx="1106.02" cy="1066.89" r="7.5"/><circle cx="1107.60" cy="1065.16" r="7.5"/><circle cx="1109.18" cy="1063.49" r="7.5"/><circle cx="1110.76" cy="1061.88" r="7.5"/><circle cx="1112.34" cy="1060.35" r="7.5"/><circle cx="1113.91" cy="1058.90" r="7.5"/><circle cx="1115.49" cy="1057.53" r="7.5"/><circle cx="1117.07" cy="1056.27" r="7.5"/><circle cx="1118.65" cy="1055.12" r="7.5"/><circle cx="1120.23" cy="1054.09" r="7.5"/><circle cx="1121.81" cy="1053.19" r="7.5"/><circle cx="1123.39" cy="1052.44" r="7.5"/><circle cx="1124.96" cy="1051.84" r="7.5"/><circle cx="1126.54" cy="1051.41" r="7.5"/><circle cx="1128.12" cy="1051.14" r="7.5"/><circle cx="1131.28" cy="1051.14" r="7.5"/><circle cx="1132.86" cy="1051.41" r="7.5"/><circle cx="1134.44" cy="1051.84" r="7.5"/><circle cx="1136.01" cy="1052.44" r="7.5"/><circle cx="1137.59" cy="1053.19" r="7.5"/><circle cx="1139.17" cy="1054.09" r="7.5"/><circle cx="1140.75" cy="1055.12" r="7.5"/><circle cx="1142.33" cy="1056.27" r="7.5"/><circle cx="1143.91" cy="1057.53" r="7.5"/><circle cx="1145.49" cy="1058.90" r="7.5"/><circle cx="1147.06" cy="1060.35" r="7.5"/><circle cx="1148.64" cy="1061.88" r="7.5"/><circle cx="1150.22" cy="1063.49" r="7.5"/><circle cx="1151.80" cy="1065.16" r="7.5"/><circle cx="1153.38" cy="1066.89" r="7.5"/><circle cx="1154.96" cy="1068.67" r="7.5"/><circle cx="1156.54" cy="1070.49" r="7.5"/><circle cx="1158.11" cy="1072.36" r="7.5"/><circle cx="1159.69" cy="1074.26" r="7.5"/><circle cx="1161.27" cy="1076.20" r="7.5"/><circle cx="1162.85" cy="1078.17" r="7.5"/><circle cx="1164.43" cy="1080.16" r="7.5"/><circle cx="1166.01" cy="1082.18" r="7.5"/><circle cx="1167.59" cy="1084.22" r="7.5"/><circle cx="1169.16" cy="1086.28" r="7.5"/><circle cx="1170.74" cy="1088.36" r="7.5"/><circle cx="1172.32" cy="1090.45" r="7.5"/><circle cx="1173.90" cy="1092.56" r="7.5"/><circle cx="1175.48" cy="1094.68" r="7.5"/><circle cx="1177.06" cy="1096.82" r="7.5"/><circle cx="1178.64" cy="1098.97" r="7.5"/><circle cx="1180.21" cy="1101.13" r="7.5"/><circle cx="1181.79" cy="1103.30" r="7.5"/><circle cx="1183.37" cy="1105.47" r="7.5"/><circle cx="1184.95" cy="1107.66" r="7.5"/><circle cx="1186.53" cy="1109.85" r="7.5"/><circle cx="1188.11" cy="1112.05" r="7.5"/><circle cx="1189.69" cy="1114.26" r="7.5"/><circle cx="1191.26" cy="1116.48" r="7.5"/><circle cx="1192.84" cy="1118.70" r="7.5"/><circle cx="1194.42" cy="1120.92" r="7.5"/><circle cx="1196.00" cy="1123.15" r="7.5"/><circle cx="1197.58" cy="1125.39" r="7.5"/><circle cx="1199.16" cy="1127.63" r="7.5"/><circle cx="1200.74" cy="1129.88" r="7.5"/><circle cx="1202.31" cy="1132.12" r="7.5"/><circle cx="1203.89" cy="1134.38" r="7.5"/><circle cx="1205.47" cy="1136.63" r="7.5"/><circle cx="1207.05" cy="1138.89" r="7.5"/><circle cx="1208.63" cy="1141.15" r="7.5"/><circle cx="1210.21" cy="1143.42" r="7.5"/><circle cx="1211.79" cy="1145.69" r="7.5"/><circle cx="1213.36" cy="1147.96" r="7.5"/><circle cx="1214.94" cy="1150.23" r="7.5"/><circle cx="1216.52" cy="1152.51" r="7.5"/><circle cx="1218.10" cy="1154.79" r="7.5"/><circle cx="1219.68" cy="1157.07" r="7.5"/><circle cx="1221.26" cy="1159.35" r="7.5"/><circle cx="1222.84" cy="1161.63" r="7.5"/><circle cx="1224.41" cy="1163.92" r="7.5"/><circle cx="1225.99" cy="1166.21" r="7.5"/><circle cx="1227.57" cy="1168.50" r="7.5"/><circle cx="1229.15" cy="1170.79" r="7.5"/><circle cx="1230.73" cy="1173.08" r="7.5"/><circle cx="1232.31" cy="1175.37" r="7.5"/><circle cx="1233.89" cy="1177.67" r="7.5"/><circle cx="1235.46" cy="1179.97" r="7.5"/><circle cx="1237.04" cy="1182.26" r="7.5"/><circle cx="1238.62" cy="1184.56" r="7.5"/><circle cx="1240.20" cy="1186.86" r="7.5"/></g>
<circle cx="1129.1" cy="950.8" r="7.5" fill="#000"/>
<g fill="#000">
<text x="985.63" y="965.30" font-size="37">0</text>
<text x="952.24" y="1210.00" font-size="37">-60</text>
<text x="980.17" y="1275.00" font-size="37">-70</text>
<text x="1113.99" y="1275.00" font-size="37">0</text>
<text x="1217.88" y="1275.00" font-size="37">70</text>
<text x="1115.66" y="1324.00" font-size="37">n</text>
<g transform="translate(944.50,1178.60) rotate(-90)"><path transform="translate(-4.21,0.00) scale(37)" d="M0.3726,0L0.2847,0L0.2847,-0.560C0.263,-0.540 0.235,-0.519 0.200,-0.498C0.166,-0.477 0.134,-0.461 0.1138,-0.4546L0.1138,-0.5396C0.1626,-0.5625 0.2051,-0.5903 0.2417,-0.6230C0.2783,-0.6558 0.3042,-0.6875 0.3193,-0.7158L0.3726,-0.7158Z"/><text x="16.37" y="0.00" font-size="37">0 log</text><path transform="translate(96.60,9.40) scale(25)" d="M0.3726,0L0.2847,0L0.2847,-0.560C0.263,-0.540 0.235,-0.519 0.200,-0.498C0.166,-0.477 0.134,-0.461 0.1138,-0.4546L0.1138,-0.5396C0.1626,-0.5625 0.2051,-0.5903 0.2417,-0.6230C0.2783,-0.6558 0.3042,-0.6875 0.3193,-0.7158L0.3726,-0.7158Z"/><text x="110.50" y="9.40" font-size="25">0</text><text x="124.41" y="0.00" font-size="37">(|f</text><text x="156.62" y="9.40" font-size="25">n</text><text x="170.52" y="0.00" font-size="37">|</text><text x="180.14" y="-10.80" font-size="25">2</text><text x="194.04" y="0.00" font-size="37">)</text></g>
</g>
</svg></body></html>
